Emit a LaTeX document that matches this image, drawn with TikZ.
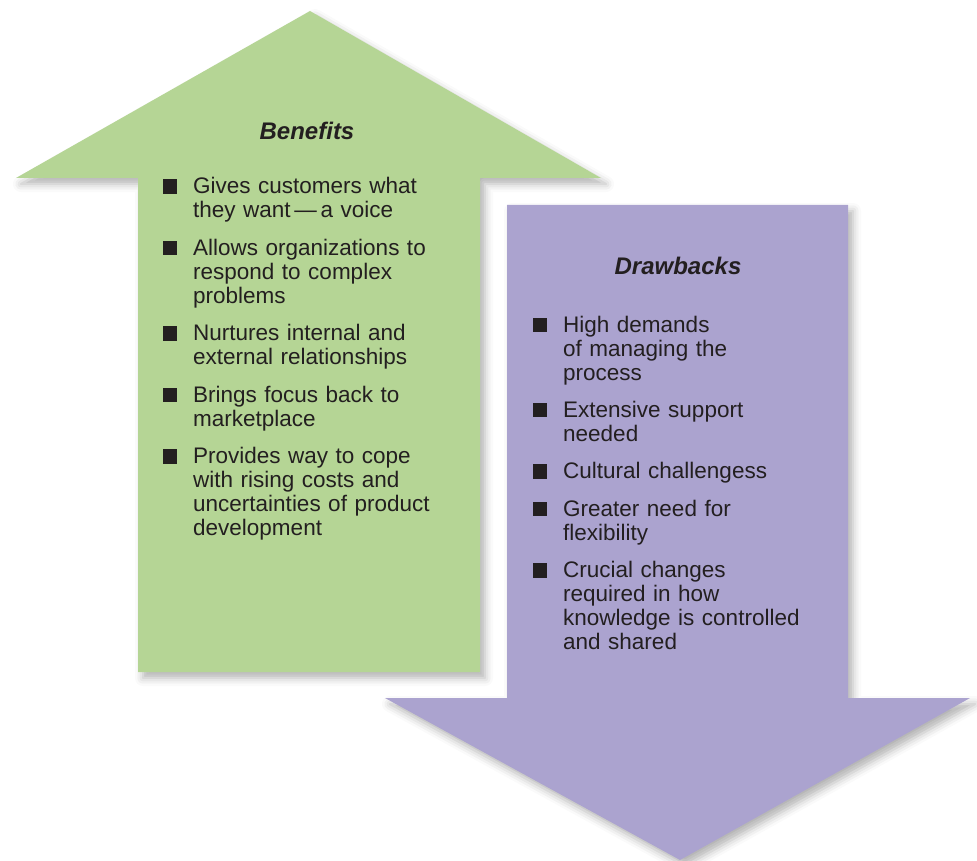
\documentclass[tikz,border=0pt]{standalone}
\usepackage{fontspec}
\setmainfont{Liberation Sans}
\usetikzlibrary{positioning,shadows.blur}
\definecolor{bgreen}{HTML}{B5D595}
\definecolor{bpurple}{HTML}{ABA3CF}
\definecolor{ink}{HTML}{231F20}
\newcommand{\bsq}{\leavevmode\llap{\rule{14.5pt}{14.5pt}\hspace{16pt}}}
\tikzset{
  arr/.style={blur shadow={shadow xshift=5pt,shadow yshift=-6pt,shadow blur radius=8pt,shadow opacity=30}},
  hdr/.style={font=\fontsize{24}{26}\selectfont\bfseries\itshape,text=ink},
  itm/.style={inner sep=0pt,align=left,text width=270pt,text=ink,font=\fontsize{22.5}{24}\selectfont},
}

\begin{document}
\begin{tikzpicture}[x=1pt,y=-1pt]
  \useasboundingbox (0,0) rectangle (977,861);
  % up arrow and down arrow
  \fill[bgreen,arr] (138,672) -- (138,178) -- (16,178) -- (310,11) -- (601,178) -- (480,178) -- (480,672) -- cycle;
  \fill[bpurple,arr] (507,205) -- (848,205) -- (848,698) -- (970,698) -- (680,860) -- (385,698) -- (507,698) -- cycle;

  \node[hdr] (ben) at (307,131) {Benefits};
  \node[itm,anchor=north west] (b1) at (193,177) {\bsq\strut Gives customers what\\they want\,—\,a voice\strut};
  \node[itm,below=13pt of b1] (b2) {\bsq\strut Allows organizations to\\respond to complex\\problems\strut};
  \node[itm,below=13pt of b2] (b3) {\bsq\strut Nurtures internal and\\external relationships\strut};
  \node[itm,below=13pt of b3] (b4) {\bsq\strut Brings focus back to\\marketplace\strut};
  \node[itm,below=13pt of b4] (b5) {\bsq\strut Provides way to cope\\with rising costs and\\uncertainties of product\\development\strut};

  \node[hdr] (draw) at (678,266) {Drawbacks};
  \node[itm,anchor=north west] (d1) at (563,315) {\bsq\strut High demands\\of managing the\\process\strut};
  \node[itm,below=13pt of d1] (d2) {\bsq\strut Extensive support\\needed\strut};
  \node[itm,below=13pt of d2] (d3) {\bsq\strut Cultural challengess\strut};
  \node[itm,below=13pt of d3] (d4) {\bsq\strut Greater need for\\flexibility\strut};
  \node[itm,below=13pt of d4] (d5) {\bsq\strut Crucial changes\\required in how\\knowledge is controlled\\and shared\strut};
\end{tikzpicture}
\end{document}
